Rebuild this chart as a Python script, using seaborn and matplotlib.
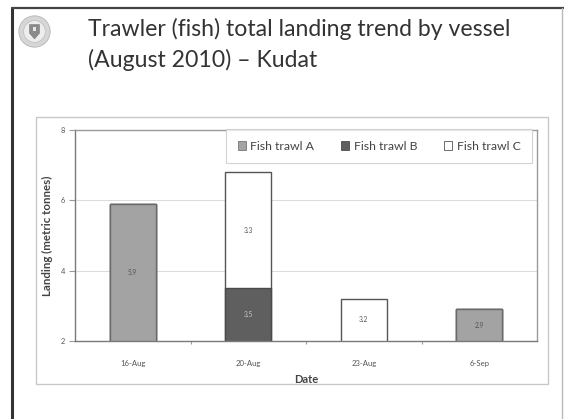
import matplotlib
matplotlib.use("Agg")
import matplotlib.pyplot as plt
import matplotlib.patches as mpatches
from matplotlib.lines import Line2D
import numpy as np
import pandas as pd
import seaborn as sns

# Landings per vessel (metric tonnes)
dates = ["16-Aug", "20-Aug", "23-Aug", "6-Sep"]
trawl_a = [5.9, 0.0, 0.0, 2.9]
trawl_b = [0.0, 3.5, 0.0, 0.0]
trawl_c = [0.0, 3.3, 3.2, 0.0]
series_names = ["Fish trawl A", "Fish trawl B", "Fish trawl C"]
y_ticks = [2, 4, 6, 8]

col_a = "#a3a3a3"
col_b = "#5f5f5f"
col_c = "#ffffff"
edge = "#555555"

sns.set_theme(style="white")
plt.rcParams["font.family"] = ["Lato", "DejaVu Sans"]

W, H = 564, 419
fig = plt.figure(figsize=(W / 100, H / 100), dpi=100)
fig.patch.set_facecolor("white")


def fx(px):
    return px / W


def fy(py):
    return 1 - py / H


# slide frame
fig.add_artist(Line2D([fx(12), fx(12)], [fy(8), 0], color="#333333", lw=2.2))
fig.add_artist(Line2D([fx(12), 1], [fy(8), fy(8)], color="#444444", lw=1.6))
fig.add_artist(Line2D([fx(562), fx(562)], [fy(8), 0], color="#bbbbbb", lw=1.0))

# crest
lax = fig.add_axes([fx(18), fy(48), fx(33), 33 / H])
lax.set_xlim(-1, 1)
lax.set_ylim(-1, 1)
lax.set_aspect("equal")
lax.axis("off")
lax.add_patch(mpatches.Circle((0, 0), 0.95, fc="#d6d6d6", ec="#b5b5b5", lw=0.6))
lax.add_patch(mpatches.Circle((0, 0), 0.66, fc="#ededed", ec="#bdbdbd", lw=0.5))
shield = mpatches.Polygon([(-0.3, 0.42), (0.3, 0.42), (0.3, -0.1), (0, -0.45), (-0.3, -0.1)],
                          closed=True, fc="#8a8a8a", ec="#777777", lw=0.4)
lax.add_patch(shield)
lax.add_patch(mpatches.Rectangle((-0.1, 0.05), 0.2, 0.22, fc="#e6e6e6", ec="none"))

# title
fig.text(fx(88), fy(29), "Trawler (fish) total landing trend by vessel",
         fontsize=16.6, color="#333333", va="center", ha="left")
fig.text(fx(88), fy(60), "(August 2010) \u2013 Kudat",
         fontsize=16.6, color="#333333", va="center", ha="left")

# chart frame
fig.add_artist(mpatches.Rectangle((fx(36), fy(384)), fx(548 - 36), (384 - 117) / H,
                                  fill=False, ec="#c8c8c8", lw=1.0))

ax = fig.add_axes([fx(75), fy(341), fx(537 - 75), (341 - 130) / H])

df = pd.DataFrame({"Date": dates, "A": trawl_a, "B": trawl_b, "C": trawl_c})
df["AB"] = df["A"] + df["B"]
df["ABC"] = df["AB"] + df["C"]

bw = 0.4
sns.barplot(data=df, x="Date", y="ABC", color=col_c, edgecolor=edge, linewidth=1.0,
            width=bw, ax=ax, saturation=1)
sns.barplot(data=df, x="Date", y="AB", color=col_b, edgecolor="#4a4a4a", linewidth=1.0,
            width=bw, ax=ax, saturation=1)
sns.barplot(data=df, x="Date", y="A", color=col_a, edgecolor="#6a6a6a", linewidth=1.0,
            width=bw, ax=ax, saturation=1)

ymin, ymax = 2, 8
ax.set_ylim(ymin, ymax)
ax.set_xlim(-0.5, len(dates) - 0.5)

# value labels in the middle of each visible segment
label_colors = ["#555555", "#c8c8c8", "#555555"]
for i in range(len(dates)):
    base = 0.0
    for vals, lc in zip((trawl_a, trawl_b, trawl_c), label_colors):
        v = vals[i]
        if v > 0:
            lo = max(base, ymin)
            hi = base + v
            ax.text(i, (lo + hi) / 2, f"{v:.1f}", ha="center", va="center",
                    fontsize=4.8, color=lc)
        base += v

ax.set_yticks(y_ticks)
ax.set_yticklabels([str(t) for t in y_ticks])
ax.yaxis.grid(True, color="#dcdcdc", lw=0.8)
ax.set_axisbelow(True)
for s in ax.spines.values():
    s.set_color("#9a9a9a")
    s.set_linewidth(1.0)
ax.spines["left"].set_color("#7a7a7a")
ax.spines["bottom"].set_color("#7a7a7a")

ax.tick_params(axis="y", which="major", left=True, length=4, width=0.8, color="#9a9a9a",
               labelsize=5.3, labelcolor="#555555", pad=3)
ax.tick_params(axis="x", which="major", bottom=False, labelsize=5.6, labelcolor="#555555", pad=8)
ax.set_xticks(np.arange(len(dates) - 1) + 0.5, minor=True)
ax.tick_params(axis="x", which="minor", bottom=True, length=2.5, width=0.8, color="#9a9a9a")

ax.set_xlabel("Date", fontsize=8, fontweight="bold", color="#444444", labelpad=5)
ax.set_ylabel("Landing (metric tonnes)", fontsize=8.3, fontweight="bold", color="#444444",
              labelpad=6)

handles = [
    mpatches.Patch(fc=col_a, ec="#777777", lw=0.6, label=series_names[0]),
    mpatches.Patch(fc=col_b, ec="#4a4a4a", lw=0.6, label=series_names[1]),
    mpatches.Patch(fc=col_c, ec="#555555", lw=0.6, label=series_names[2]),
]
leg = fig.legend(handles=handles, ncol=3, loc="center",
                 bbox_to_anchor=(fx(226), fy(165), fx(532 - 226), (165 - 127) / H),
                 mode="expand", fontsize=8.8, frameon=True, fancybox=False,
                 handlelength=0.7, handleheight=0.7, handletextpad=0.35,
                 borderpad=0.95, columnspacing=1.2, labelcolor="#444444",
                 borderaxespad=0)
leg.get_frame().set_edgecolor("#c8c8c8")
leg.get_frame().set_linewidth(0.8)

fig.savefig("out.png", dpi=100)
